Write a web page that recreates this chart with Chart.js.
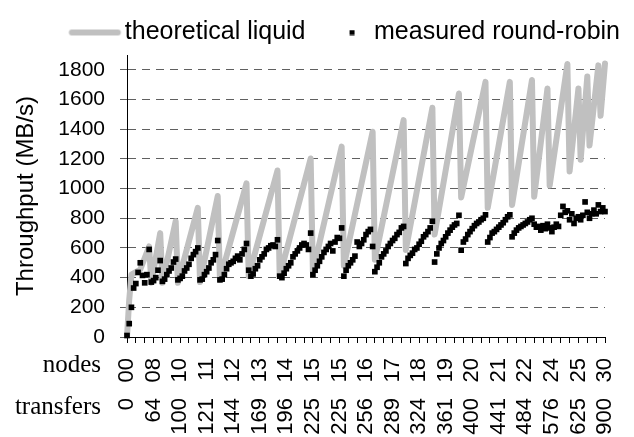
<!DOCTYPE html>
<html>
<head>
<meta charset="utf-8">
<script src="https://cdn.jsdelivr.net/npm/chart.js@4.4.1/dist/chart.umd.min.js"></script>
<style>
html,body{margin:0;padding:0;overflow:hidden;background:#ffffff;}
#wrap{position:relative;width:634px;height:437px;}
</style>
</head>
<body>
<div id="wrap"><canvas id="c" width="634" height="437"></canvas></div>
<script>
// ---- data ----
const seriesNames = ['theoretical liquid', 'measured round-robin'];
const axisTitle = 'Throughput (MB/s)';
const rowTitles = ['nodes', 'transfers'];
const nodesLabels = ['00','08','10','11','12','13','14','15','15','16','17','18','19','20','21','22','24','25','30'];
const transfersLabels = ['0','64','100','121','144','169','196','225','225','256','289','324','361','400','441','484','576','625','900'];
const yTickValues = [0, 200, 400, 600, 800, 1000, 1200, 1400, 1600, 1800];
const yMax = 1900;
const LABEL_EVERY = 12, TICK_EVERY = 4;

// measured round-robin, one value per category (MB/s)
const measured = [
  10, 90, 200, 330, 360, 435, 500, 415, 365, 420, 590,
  370, 380, 400, 450, 515,
  375, 390, 420, 445, 465, 505, 525,
  385, 395, 410, 445, 465, 490, 530, 555, 575, 600,
  385, 390, 420, 440, 465, 500, 520, 555, 650,
  385, 390, 420, 460, 490, 500, 510, 530, 545, 520, 560, 590, 630,
  450, 410, 425, 460, 480, 520, 540, 560, 590, 600, 615, 620, 610, 655,
  410, 400, 430, 460, 480, 500, 540, 560, 580, 600, 620, 630, 620, 590, 700,
  420, 450, 480, 510, 540, 570, 590, 610, 630, 580, 640, 670, 665, 735,
  410, 450, 480, 500, 520, 545, 640, 610, 630, 655, 690, 710, 725, 610,
  440, 470, 500, 540, 560, 580, 610, 630, 650, 665, 690, 705, 735, 745,
  495, 530, 550, 565, 590, 600, 625, 645, 675, 690, 710, 735, 780,
  505, 560, 600, 630, 650, 675, 700, 720, 740, 755, 765, 820,
  585, 640, 660, 690, 710, 730, 750, 765, 775, 790, 800, 823,
  640, 670, 700, 710, 725, 740, 755, 770, 790, 810, 823,
  675, 700, 720, 735, 745, 755, 765, 775, 790, 800,
  760, 740, 745, 720, 750, 730, 760,
  735, 710, 740, 760, 745, 820, 880, 840, 850,
  790, 830, 765, 800, 810,
  790, 820, 910, 840,
  800, 830, 855, 830, 890,
  845, 870, 845
];

// theoretical liquid: values read at the corners of the saw-tooth (category index, MB/s)
const theoryAt  = [0, 1, 2, 6, 10, 11, 15, 16, 22, 23, 32, 33, 41, 42, 54, 55, 68, 69, 83, 84, 97, 98, 111, 112, 125, 126, 138, 139, 150, 151, 162, 163, 173, 174, 183, 184, 190, 191, 199, 200, 204, 205, 208, 209, 213, 214, 216];
const theoryMBs = [0, 250, 420, 455, 610, 365, 700, 365, 780, 365, 870, 370, 950, 385, 1035, 410, 1122, 410, 1203, 440, 1283, 480, 1383, 520, 1461, 586, 1545, 690, 1641, 940, 1719, 870, 1719, 890, 1731, 945, 1675, 1020, 1840, 1115, 1675, 1195, 1755, 1290, 1830, 1490, 1843];

// ---- build library structures ----
const categories = measured.map((_, i) => String(i));
const theoretical = categories.map(() => null);
theoryAt.forEach((idx, k) => { theoretical[idx] = theoryMBs[k]; });

const SANS = "'Liberation Sans', Arial, sans-serif";
const SERIF = "'Liberation Serif', 'Times New Roman', serif";

function makeLineIcon() {
  const c = document.createElement('canvas');
  c.width = 68; c.height = 8;
  const g = c.getContext('2d');
  g.strokeStyle = '#c0c0c0'; g.lineWidth = 6; g.lineCap = 'round';
  g.beginPath(); g.moveTo(17.5, 4); g.lineTo(63.5, 4); g.stroke();
  return c;
}
function makeSquareIcon() {
  const c = document.createElement('canvas');
  c.width = 40; c.height = 6;
  const g = c.getContext('2d');
  g.fillStyle = '#000'; g.fillRect(32, 0.5, 5, 5);
  return c;
}
const legendIcons = [makeLineIcon(), makeSquareIcon()];

const rowTitlePlugin = {
  id: 'rowTitles',
  afterDraw(chart) {
    const ctx = chart.ctx;
    const sx = chart.scales.x, sx2 = chart.scales.x2;
    ctx.save();
    ctx.font = '25px ' + SERIF;
    ctx.fillStyle = '#000';
    ctx.textAlign = 'right';
    ctx.textBaseline = 'alphabetic';
    ctx.fillText(rowTitles[0], 101, sx.top + 35);
    ctx.fillText(rowTitles[1], 101, sx2.top + 16);
    ctx.restore();
  }
};

new Chart(document.getElementById('c'), {
  type: 'line',
  data: {
    labels: categories,
    datasets: [
      {
        label: seriesNames[0],
        data: theoretical,
        xAxisID: 'x', yAxisID: 'y',
        spanGaps: true,
        borderColor: '#c0c0c0',
        backgroundColor: '#c0c0c0',
        borderWidth: 6,
        borderCapStyle: 'round',
        borderJoinStyle: 'round',
        pointRadius: 0,
        tension: 0,
        fill: false,
        order: 1
      },
      {
        label: seriesNames[1],
        data: measured,
        xAxisID: 'x', yAxisID: 'y',
        showLine: false,
        pointStyle: 'rect',
        pointRadius: 4,
        pointBackgroundColor: '#000',
        pointBorderWidth: 0,
        borderColor: '#000',
        backgroundColor: '#000',
        clip: false,
        order: 0
      }
    ]
  },
  options: {
    responsive: false,
    animation: false,
    devicePixelRatio: 1,
    layout: { padding: { top: 0, left: 0, bottom: 0, right: 6 } },
    plugins: {
      tooltip: { enabled: false },
      legend: {
        position: 'top',
        align: 'end',
        labels: {
          usePointStyle: true,
          pointStyleWidth: 48,
          padding: 8,
          color: '#000',
          font: { size: 25, family: SANS },
          generateLabels(chart) {
            const items = Chart.defaults.plugins.legend.labels.generateLabels(chart);
            items.sort((a, b) => a.datasetIndex - b.datasetIndex);
            items.forEach(it => { it.pointStyle = legendIcons[it.datasetIndex]; it.lineWidth = 0; });
            return items;
          }
        }
      }
    },
    scales: {
      x: {
        type: 'category',
        position: 'bottom',
        weight: 0,
        offset: false,
        ticks: {
          autoSkip: false, minRotation: 90, maxRotation: 90, padding: 15,
          color: '#000', font: { size: 22, family: SANS },
          callback: (v, i) => (i % LABEL_EVERY === 0 ? nodesLabels[i / LABEL_EVERY] : '')
        },
        grid: {
          drawOnChartArea: false, drawTicks: true, tickLength: 6,
          color: 'rgba(0,0,0,0)',
          tickColor: c => (c.index % TICK_EVERY === 0 ? '#000' : 'rgba(0,0,0,0)'),
          tickWidth: 1
        },
        border: { display: true, color: '#000', width: 1 },
        afterFit: s => { s.height = 61; s.paddingRight = 29; }
      },
      x2: {
        type: 'category',
        position: 'bottom',
        weight: 1,
        offset: false,
        ticks: {
          autoSkip: false, minRotation: 90, maxRotation: 90, padding: 0,
          color: '#000', font: { size: 22, family: SANS },
          callback: (v, i) => (i % LABEL_EVERY === 0 ? transfersLabels[i / LABEL_EVERY] : '')
        },
        grid: { display: false, drawTicks: false },
        border: { display: false },
        afterFit: s => { s.height = 39; s.paddingRight = 29; }
      },
      y: {
        type: 'linear',
        position: 'left',
        min: 0, max: yMax,
        ticks: {
          padding: 15, color: '#000', font: { size: 21, family: SANS },
          callback: v => String(v)
        },
        afterBuildTicks: s => { s.ticks = yTickValues.map(v => ({ value: v })); },
        grid: {
          color: c => (c.tick && c.tick.value === 0 ? 'rgba(0,0,0,0)' : '#606060'),
          tickColor: '#606060', tickLength: 7, tickBorderDash: [], lineWidth: 1
        },
        border: { display: true, color: '#000', width: 1, dash: [8, 6] },
        title: { display: true, text: axisTitle, color: '#000', font: { size: 24, family: SANS }, padding: { top: 12, bottom: 0 } },
        afterFit: s => { s.width = 127; s.paddingTop = 55; }
      }
    }
  },
  plugins: [rowTitlePlugin]
});
</script>
</body>
</html>
